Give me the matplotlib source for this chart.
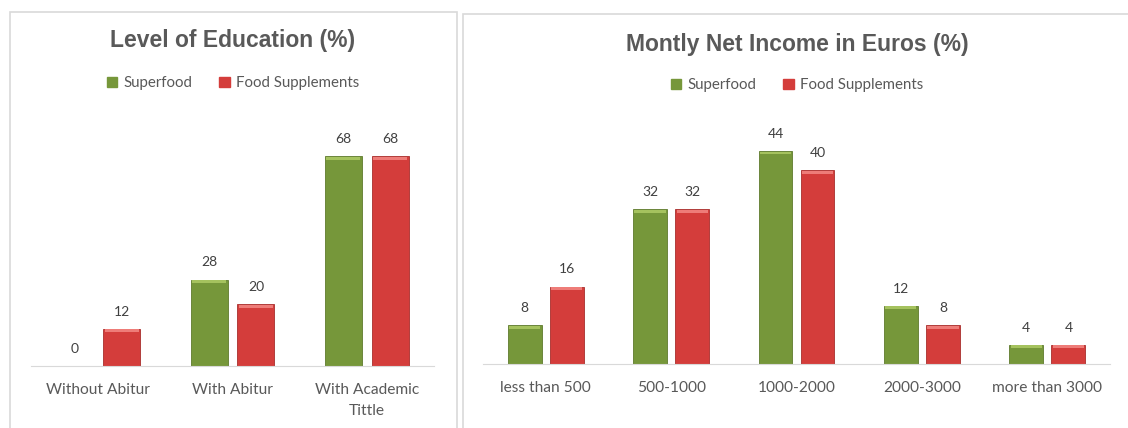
import matplotlib.pyplot as plt
import matplotlib.patches as mpatches
import numpy as np

# data
edu_labels = ["Without Abitur", "With Abitur", "With Academic\nTittle"]
edu_superfood = [0, 28, 68]
edu_supplements = [12, 20, 68]

inc_labels = ["less than 500", "500-1000", "1000-2000", "2000-3000", "more than 3000"]
inc_superfood = [8, 32, 44, 12, 4]
inc_supplements = [16, 32, 40, 8, 4]

GREEN = "#76973A"
RED = "#D43D3B"
GREY = "#595959"

plt.rcParams['font.family'] = ['Lato', 'DejaVu Sans']

fig = plt.figure(figsize=(11.28, 4.28), dpi=100)

# panel frames
for x0, y0, w in [(10, 12, 447), (463, 14, 680)]:
    fig.patches.append(mpatches.Rectangle((x0 / 1128, -0.05), w / 1128, (428 - y0) / 428 + 0.05,
                                          transform=fig.transFigure, fill=False,
                                          edgecolor="#D9D9D9", lw=1.2))


def draw(ax, labels, s1, s2, off, width, ymax, title, title_x, title_y, leg_y):
    x = np.arange(len(labels))
    b1 = ax.bar(x - off, s1, width, color=GREEN, edgecolor="#5E7A2C", lw=0.6)
    b2 = ax.bar(x + off, s2, width, color=RED, edgecolor="#A82E2C", lw=0.6)
    # lighter cap on top of each bar
    for bars, c in [(b1, "#A5C25E"), (b2, "#EE7C78")]:
        for b in bars:
            if b.get_height() > 0:
                ax.bar(b.get_x() + b.get_width() / 2, ymax * 0.012, b.get_width() * 0.92,
                       bottom=b.get_height() - ymax * 0.014, color=c, lw=0)
    for bars, vals in [(b1, s1), (b2, s2)]:
        for b, v in zip(bars, vals):
            ax.annotate(str(v), (b.get_x() + b.get_width() / 2, v), xytext=(0, 8),
                        textcoords="offset points", ha="center", va="bottom",
                        fontsize=10, color="#404040")
    ax.set_ylim(0, ymax)
    ax.set_xlim(-0.5, len(labels) - 0.5)
    ax.set_xticks(x)
    ax.set_xticklabels(labels, fontsize=11.2, color=GREY, linespacing=1.7)
    ax.tick_params(axis="x", length=0, pad=12)
    ax.set_yticks([])
    for s in ["top", "right", "left"]:
        ax.spines[s].set_visible(False)
    ax.spines["bottom"].set_color("#D9D9D9")
    fig.text(title_x / 1128, 1 - title_y / 428, title, ha="center", va="center",
             fontsize=16.5, fontweight="bold", color=GREY, family="Liberation Sans")
    handles = [mpatches.Patch(color=GREEN, label="Superfood"),
               mpatches.Patch(color=RED, label="Food Supplements")]
    fig.legend(handles=handles, loc="center", bbox_to_anchor=(title_x / 1128, 1 - leg_y / 428),
               ncol=2, frameon=False, fontsize=10.8, handlelength=0.7, handleheight=0.7,
               handletextpad=0.4, columnspacing=1.8, labelcolor=GREY)


ax1 = fig.add_axes([31 / 1128, 62 / 428, 403 / 1128, 247 / 428])
draw(ax1, edu_labels, edu_superfood, edu_supplements, 0.174, 0.275, 80,
     "Level of Education (%)", 233, 40, 83)

ax2 = fig.add_axes([483 / 1128, 64 / 428, 627 / 1128, 242 / 428])
draw(ax2, inc_labels, inc_superfood, inc_supplements, 0.168, 0.27, 50,
     "Montly Net Income in Euros (%)", 797, 44, 85)

fig.savefig("out.png", dpi=100)
